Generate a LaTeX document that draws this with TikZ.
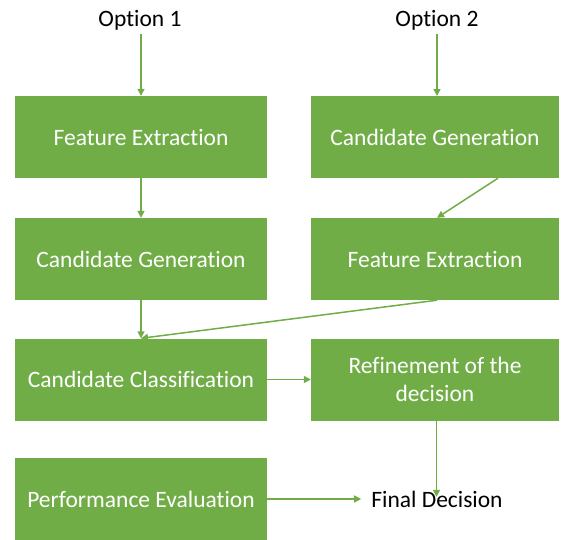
\documentclass[tikz,border=0pt]{standalone}
\usepackage{fontspec}
\setmainfont{Carlito}[Ligatures=NoCommon]
\usetikzlibrary{arrows.meta}
\definecolor{boxgreen}{HTML}{70AD47}

\begin{document}
\begin{tikzpicture}[x=1pt,y=-1pt,
  box/.style={fill=boxgreen, text=white, minimum width=250pt, minimum height=82pt,
    inner sep=0pt, align=center, font=\fontsize{23.5}{28}\selectfont},
  lbl/.style={inner sep=0pt, font=\fontsize{23.5}{28}\selectfont},
  arr/.style={draw=boxgreen, line width=1.5pt, -{Triangle[length=7pt,width=7pt]}}]
\useasboundingbox (0,0) rectangle (561,539);

%labels
\node[lbl] (opt1) at (140,20) {Option 1};
\node[lbl] (opt2) at (437,20) {Option 2};
\node[lbl, minimum height=20pt] (final) at (437,499) {Final Decision};

%left column
\node[box, minimum width=252pt] (lfe) at (141,137) {Feature Extraction};
\node[box, minimum width=252pt] (lcg) at (141,259) {Candidate Generation};
\node[box, minimum width=252pt] (lcc) at (141,379.5) {Candidate Classification};
\node[box, minimum width=252pt] (lpe) at (141,499) {Performance Evaluation};

%right column
\node[box, minimum width=248pt] (rcg) at (435,137) {Candidate Generation};
\node[box, minimum width=248pt] (rfe) at (435,259) {Feature Extraction};
\node[box, minimum width=248pt] (rrd) at (435,379.5) {Refinement of the\\decision};

%arrows
\draw[arr] (opt1.south) ++(1,4) coordinate (o1) (o1) -- (lfe.north);
\draw[arr] (opt2.south) ++(0,4) coordinate (o2) (o2) -- (437,96);
\draw[arr] (lfe.south) -- (lcg.north);
\draw[arr] (lcg.south) -- (lcc.north);
\draw[arr] ([xshift=63pt]rcg.south) -- ([xshift=2pt]rfe.north);
\draw[arr] ([xshift=2pt]rfe.south) -- (lcc.north);
\draw[arr] (lcc.east) -- (rrd.west);
\draw[arr] ([xshift=1.5pt]rrd.south) coordinate (r1) (r1) -- ([yshift=-8pt]r1 |- final.north);
\draw[arr] (lpe.east) -- ([xshift=-10pt]lpe.east -| final.west);

\end{tikzpicture}
\end{document}
